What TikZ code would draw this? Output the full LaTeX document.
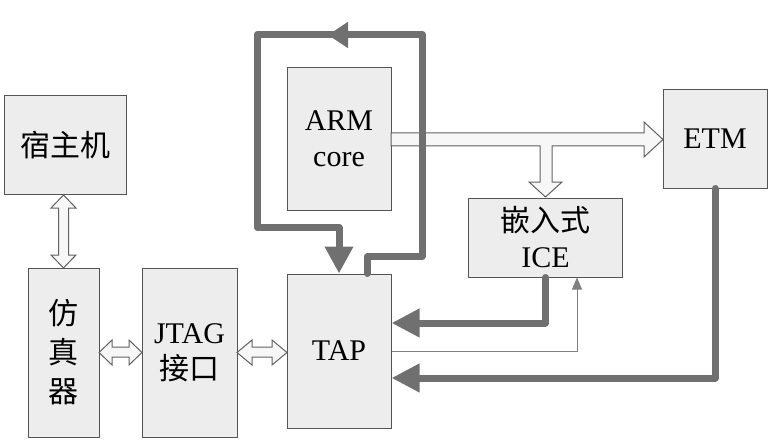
\documentclass[tikz,border=0pt]{standalone}
\usepackage{fontspec}
\setmainfont{Liberation Serif}
\newfontfamily\cjk{Noto Sans CJK SC}
\usetikzlibrary{arrows.meta, calc}
\tikzset{x=1pt, y=-1pt,
  blk/.style={draw=black!67, fill=black!7, line width=1pt, align=center, inner sep=0pt,
    font=\fontsize{30}{36}\selectfont},
  bus/.style={draw=black!62, fill=black!3, line width=1pt},
  fat/.style={draw=black!56, line width=7pt, line cap=round, line join=round,
    -{Triangle[length=27pt, width=27pt]}},
  thin/.style={draw=black!50, line width=0.8pt, -{Triangle[length=12pt, width=10pt]}}}

\begin{document}
\begin{tikzpicture}
\useasboundingbox (0,0) rectangle (771,441);
\node[blk, minimum width=122pt, minimum height=98pt] (host) at (65,145) {\cjk 宿主机};
\node[blk, minimum width=71pt, minimum height=169pt, font=\fontsize{30}{39}\selectfont] (emu) at (63.5,352.5) {\cjk 仿\\\cjk 真\\\cjk 器};
\node[blk, minimum width=95pt, minimum height=169pt] (jtag) at (189.5,352.5) {JTAG\\\cjk 接口};
\node[blk, minimum width=104pt, minimum height=154pt] (tap) at (339,351) {TAP};
\node[blk, minimum width=104pt, minimum height=142pt] (arm) at (339,139) {ARM\\core};
\node[blk, minimum width=154pt, minimum height=79pt] (ice) at (545.5,237.5) {{\cjk 嵌入式}\\ICE};
\node[blk, minimum width=104pt, minimum height=98pt] (etm) at (715,139) {ETM};
% hollow buses
\draw[bus] (63.5,195) -- (76,208) -- (68.5,208) -- (68.5,255) -- (76,255) -- (63.5,268)
  -- (51,255) -- (58.5,255) -- (58.5,208) -- (51,208) -- cycle;
\draw[bus] (99,352.5) -- (112,340) -- (112,347) -- (129,347) -- (129,340) -- (142,352.5)
  -- (129,365) -- (129,357) -- (112,357) -- (112,365) -- cycle;
\draw[bus] (237,352.5) -- (252,340) -- (252,347) -- (272,347) -- (272,340) -- (287,352.5)
  -- (272,365) -- (272,357) -- (252,357) -- (252,365) -- cycle;
\draw[bus] (391,133) -- (644,133) -- (644,122) -- (663,139.5) -- (644,157) -- (644,146)
  -- (552,146) -- (552,182) -- (562,182) -- (545.5,197) -- (529,182) -- (540,182)
  -- (540,146) -- (391,146) -- cycle;
% scan chain loop
\draw[fat] ([xshift=28pt]tap.north) -- ++(0,-17) -- ++(55,0) -- ++(0,-222) -- ++(-165,0)
  -- ++(0,193) -| (tap.north);
\draw[fat, -{Triangle[length=20pt, width=25pt]}] (362,35) -- (328,35);
\draw[fat, -{Triangle[length=28pt, width=27pt]}] (ice.south) |- ([yshift=28pt]tap.east);
\draw[fat, -{Triangle[length=28pt, width=27pt]}] (etm.south) |- ([yshift=-27pt]tap.east);
\draw[thin] (tap.east) -| ([xshift=31.5pt]ice.south);
\end{tikzpicture}
\end{document}
